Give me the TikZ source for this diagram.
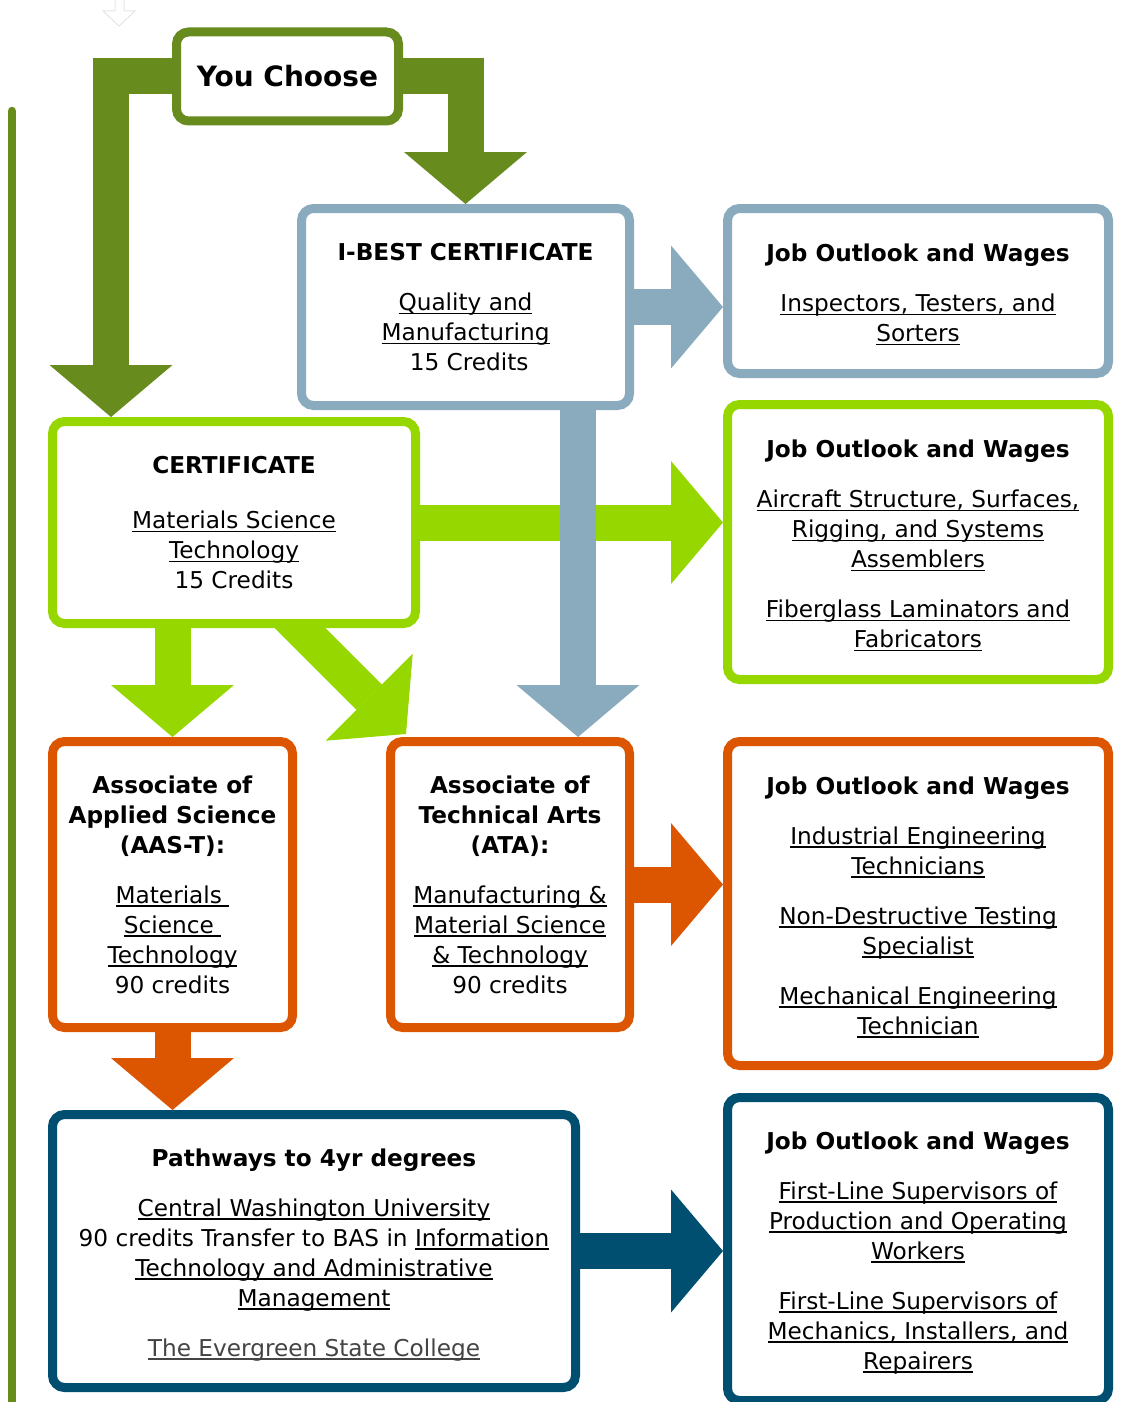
\documentclass[tikz,border=0pt]{standalone}
\usepackage{fontspec}
\setmainfont{DejaVu Sans}
\usetikzlibrary{arrows.meta, backgrounds, calc}
\definecolor{chgreen}{HTML}{678B1D}
\definecolor{certgreen}{HTML}{97D700}
\definecolor{bestblue}{HTML}{8AABBD}
\definecolor{degorange}{HTML}{DC5500}
\definecolor{pathblue}{HTML}{004E70}
\newsavebox{\lnkbox}
\newcommand{\lnk}[1]{\sbox\lnkbox{#1}\rlap{\rule[-3.7pt]{\wd\lnkbox}{1.5pt}}\usebox\lnkbox} % underlined link text
\newcommand{\topgap}{\rule{0pt}{25pt}} % pushes the text block a little down
\tikzset{
box/.style={draw, line width=9pt, rounded corners=12pt, fill=white, inner sep=0pt, align=center, font=\fontsize{23.2}{30}\selectfont}, % every outlined box
bigarrow/.style={line width=36pt, -{Triangle[length=52pt, width=123pt, line width=0pt]}}, % the thick block arrows
}
\begin{document}
\begin{tikzpicture}[x=1pt, y=-1pt]
                \useasboundingbox (0,0) rectangle (1120,1402);

                \node[box, draw=chgreen, minimum width=222pt, minimum height=89pt, font=\fontsize{28}{34}\selectfont\bfseries] (choose) at (287.5,76.5) {You Choose};
                \node[box, draw=bestblue, minimum width=328pt, minimum height=197pt] (ibest) at (465.5,307) {\textbf{I-BEST CERTIFICATE}\\[20pt]\lnk{Quality and}\\\lnk{Manufacturing}\\\ 15 Credits};
                \node[box, draw=bestblue, minimum width=381pt, minimum height=165pt] (job1) at (918,291) {\topgap\textbf{Job Outlook and Wages}\\[20pt]\lnk{Inspectors, Testers, and}\\\lnk{Sorters}};
                \node[box, draw=certgreen, minimum width=363pt, minimum height=202pt] (cert) at (234,522.5) {\textbf{CERTIFICATE}\\[25pt]\lnk{Materials Science}\\\lnk{Technology}\\15 Credits};
                \node[box, draw=certgreen, minimum width=381pt, minimum height=275pt] (job2) at (918,542) {\topgap\textbf{Job Outlook and Wages}\\[20pt]\lnk{Aircraft Structure, Surfaces,}\\\lnk{Rigging, and Systems}\\\lnk{Assemblers}\\[20pt]\lnk{Fiberglass Laminators and}\\\lnk{Fabricators}};
                \node[box, draw=degorange, minimum width=240pt, minimum height=286pt] (aas) at (172.5,884.5) {\textbf{Associate of}\\\textbf{Applied Science}\\\textbf{(AAS-T):}\\[20pt]\lnk{Materials }\\\lnk{Science }\\\lnk{Technology}\\90 credits};
                \node[box, draw=degorange, minimum width=239pt, minimum height=286pt] (ata) at (510,884.5) {\textbf{Associate of}\\\textbf{Technical Arts}\\\textbf{(ATA):}\\[20pt]\lnk{Manufacturing \&}\\\lnk{Material Science}\\\lnk{\& Technology}\\90 credits};
                \node[box, draw=degorange, minimum width=381pt, minimum height=324pt] (job3) at (918,903.5) {\topgap\textbf{Job Outlook and Wages}\\[20pt]\lnk{Industrial Engineering}\\\lnk{Technicians}\\[20pt]\lnk{Non-Destructive Testing}\\\lnk{Specialist}\\[20pt]\lnk{Mechanical Engineering}\\\lnk{Technician}};
                \node[box, draw=pathblue, minimum width=523pt, minimum height=273pt] (paths) at (314,1251) {\topgap\textbf{Pathways to 4yr degrees}\\[20pt]\lnk{Central Washington University}\\90 credits Transfer to BAS in \lnk{Information}\\\lnk{Technology and Administrative}\\\lnk{Management}\\[20pt]\textcolor[HTML]{444444}{\lnk{The Evergreen State College}}};
                \node[box, draw=pathblue, minimum width=381pt, minimum height=303pt] (job4) at (918,1249) {\topgap\textbf{Job Outlook and Wages}\\[20pt]\lnk{First-Line Supervisors of}\\\lnk{Production and Operating}\\\lnk{Workers}\\[20pt]\lnk{First-Line Supervisors of}\\\lnk{Mechanics, Installers, and}\\\lnk{Repairers}};

                \draw[gray!20, line width=1pt] (115,-2) -- (115,11) -- (103,11) -- (119,26) -- (135,11) -- (124,11) -- (124,-2);

                \begin{scope}[on background layer]
                \draw[chgreen, line width=8.5pt, line cap=round] (11.8,111) -- (11.8,1412);
                \draw[bigarrow, chgreen] (choose.center) -| ([xshift=63pt]cert.north west);
                \draw[bigarrow, chgreen] (choose.center) -| (ibest.north);
                \draw[bigarrow, certgreen] (cert.center) -- (cert.center -| job2.west);
                \draw[bigarrow, certgreen] (cert.center -| aas.north) -- (aas.north);
                \draw[bigarrow, certgreen] ($(cert.south)+(48,-18)$) -- ++(124,124);
                \draw[bigarrow, bestblue] (ibest.center) -- (ibest.center -| job1.west);
                \draw[bigarrow, bestblue] ([xshift=112.5pt]ibest.center) -- ([xshift=112.5pt]ibest.center |- ata.north);
                \draw[bigarrow, degorange] (ata.center) -- (ata.center -| job3.west);
                \draw[bigarrow, degorange] (aas.center) -- (aas.center |- paths.north);
                \draw[bigarrow, pathblue] (paths.center) -- (paths.center -| job4.west);
                \end{scope}
            \end{tikzpicture}
\end{document}
